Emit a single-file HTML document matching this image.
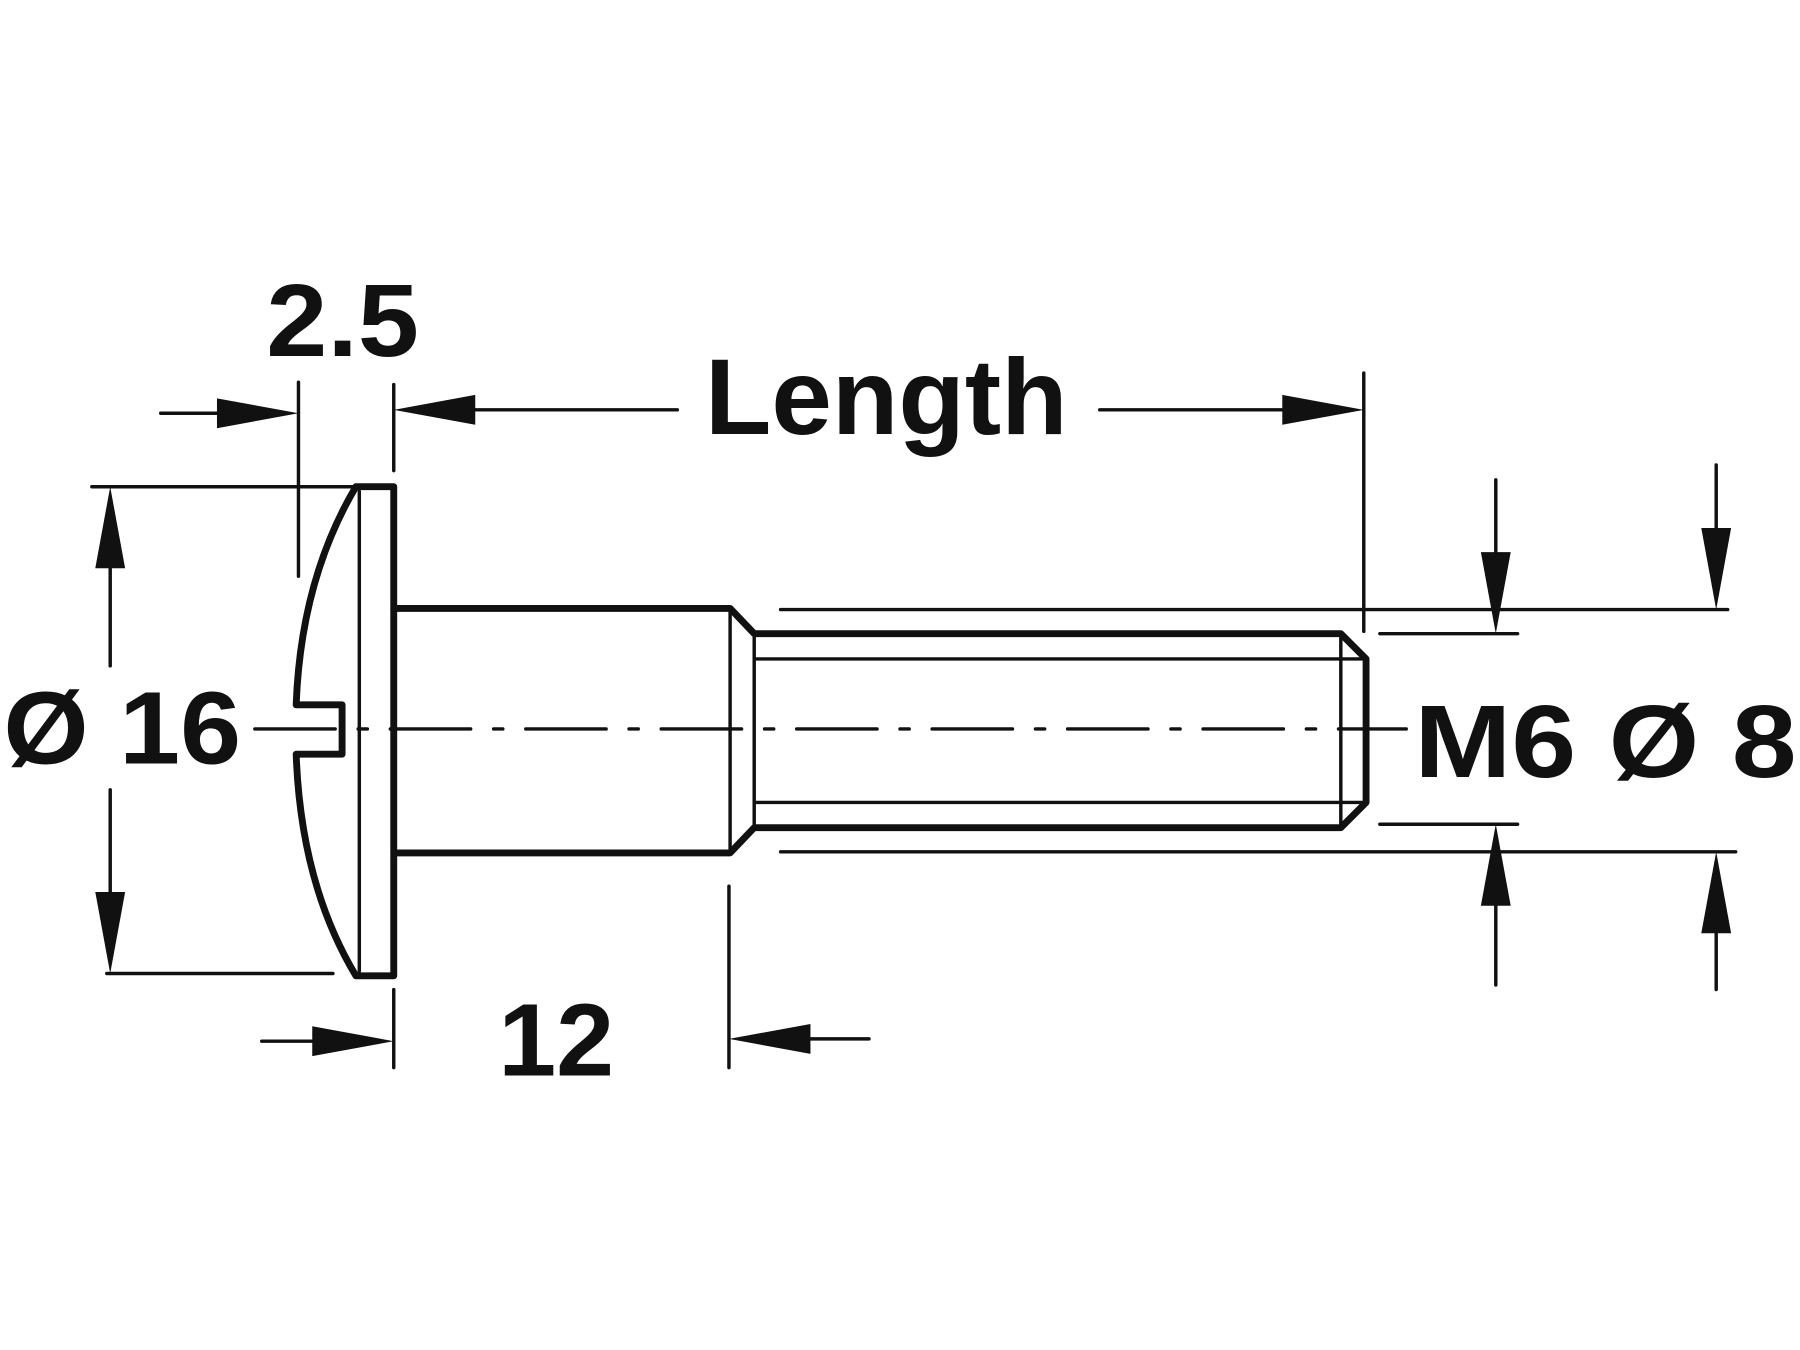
<!DOCTYPE html>
<html><head><style>html,body{margin:0;padding:0;background:#fff}svg{display:block}</style></head>
<body>
<svg width="1800" height="1350" viewBox="0 0 1568 1176" xmlns="http://www.w3.org/2000/svg">
<rect width="1568" height="1176" fill="#fff"/>
<g fill="none" stroke="#111" stroke-linecap="round" stroke-linejoin="round">
<path d="M343 424 L310 424 Q262 505 258 614 L298 614 L298 657 L258 657 Q262 770 310 850 L343 850 Z" stroke-width="6"/>
<line x1="313" y1="428" x2="313" y2="846" stroke-width="3"/>
<path d="M343 530 L636 530 L657 552 L1168 552 L1190 574 L1190 699 L1168 721 L657 721 L636 743 L343 743" stroke-width="6"/>
<line x1="636" y1="530" x2="636" y2="743" stroke-width="3"/>
<line x1="657" y1="552" x2="657" y2="721" stroke-width="3"/>
<line x1="657" y1="574" x2="1190" y2="574" stroke-width="3"/>
<line x1="657" y1="699" x2="1190" y2="699" stroke-width="3"/>
<line x1="1168" y1="552" x2="1168" y2="721" stroke-width="3"/>
<path d="M222 635 H1225" stroke-width="3" stroke-dasharray="70 20 8 20"/>
<g stroke-width="3">
<line x1="680" y1="531" x2="1505" y2="531"/>
<line x1="680" y1="742" x2="1512" y2="742"/>
<line x1="1202" y1="552" x2="1322" y2="552"/>
<line x1="1202" y1="718" x2="1322" y2="718"/>
<line x1="1303" y1="418" x2="1303" y2="500"/>
<line x1="1303" y1="770" x2="1303" y2="858"/>
<line x1="1495" y1="405" x2="1495" y2="480"/>
<line x1="1495" y1="795" x2="1495" y2="862"/>
<line x1="1188" y1="325" x2="1188" y2="550"/>
<line x1="343" y1="335" x2="343" y2="410"/>
<line x1="590" y1="357" x2="390" y2="357"/>
<line x1="958" y1="357" x2="1140" y2="357"/>
<line x1="260" y1="333" x2="260" y2="502"/>
<line x1="140" y1="360" x2="210" y2="360"/>
<line x1="80" y1="424" x2="330" y2="424"/>
<line x1="93" y1="848" x2="290" y2="848"/>
<line x1="96" y1="580" x2="96" y2="470"/>
<line x1="96" y1="688" x2="96" y2="800"/>
<line x1="343" y1="862" x2="343" y2="930"/>
<line x1="228" y1="907" x2="290" y2="907"/>
<line x1="635" y1="772" x2="635" y2="930"/>
<line x1="757" y1="905" x2="690" y2="905"/>
</g>
</g>
<g fill="#111">
<polygon points="343,357 414,344 414,370"/>
<polygon points="1188,357 1117,344 1117,370"/>
<polygon points="260,360 189,347 189,373"/>
<polygon points="96,424 83,495 109,495"/>
<polygon points="96,848 83,777 109,777"/>
<polygon points="343,907 272,894 272,920"/>
<polygon points="635,905 706,892 706,918"/>
<polygon points="1303,552 1290,481 1316,481"/>
<polygon points="1303,718 1290,789 1316,789"/>
<polygon points="1495,531 1482,460 1508,460"/>
<polygon points="1495,742 1482,813 1508,813"/>
</g>
<g font-family="Liberation Sans, sans-serif" font-weight="bold" fill="#111" lengthAdjust="spacingAndGlyphs">
<text x="232" y="310" font-size="90" textLength="133" lengthAdjust="spacingAndGlyphs">2.5</text>
<text x="614" y="378" font-size="94" textLength="316" lengthAdjust="spacingAndGlyphs">Length</text>
<text x="3" y="665" font-size="90" textLength="207" lengthAdjust="spacingAndGlyphs">Ø 16</text>
<text x="434" y="937" font-size="90" textLength="101" lengthAdjust="spacingAndGlyphs">12</text>
<text x="1232" y="677" font-size="90" textLength="333" lengthAdjust="spacingAndGlyphs">M6 Ø 8</text>
</g>
</svg>
</body></html>
